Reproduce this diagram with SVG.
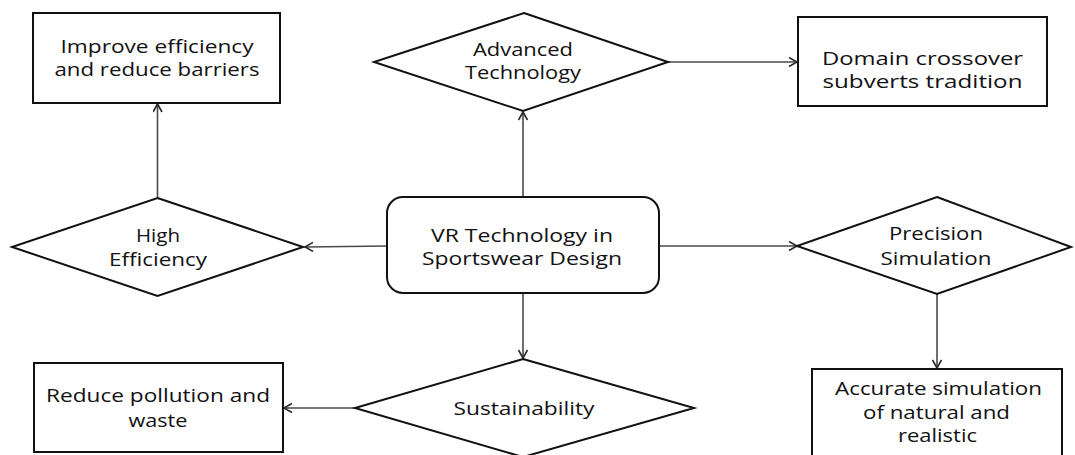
<svg xmlns="http://www.w3.org/2000/svg" width="1075" height="455" viewBox="0 0 1075 455">
  <style>
    .box { fill: #ffffff; stroke: #111111; stroke-width: 2; }
    .dia { fill: #ffffff; stroke: #111111; stroke-width: 2; stroke-linejoin: miter; }
    .lbl { font-family: "Open Sans", "Noto Sans", "Liberation Sans", sans-serif; font-size: 18.5px; fill: #111111; text-anchor: middle; }
    .edge { fill: none; stroke: #4a4a4a; stroke-width: 1.6; marker-end: url(#arrow); }
  </style>
  <defs>
    <marker id="arrow" markerUnits="userSpaceOnUse" markerWidth="12" markerHeight="12" refX="9" refY="5" orient="auto">
      <path d="M1,0.5 L9,5 L1,9.5" fill="none" stroke="#2a2a2a" stroke-width="1.6"/>
    </marker>
  </defs>
  <rect width="1075" height="455" fill="#ffffff"/>

  <!-- connectors -->
  <g id="connectors">
    <line class="edge" x1="523" y1="197" x2="523" y2="112"/>
    <line class="edge" x1="668" y1="62" x2="797" y2="62"/>
    <line class="edge" x1="388" y1="246" x2="305" y2="247"/>
    <line class="edge" x1="659" y1="246" x2="797" y2="246"/>
    <line class="edge" x1="523" y1="293" x2="523" y2="358"/>
    <line class="edge" x1="157.5" y1="198" x2="157.5" y2="104"/>
    <line class="edge" x1="937" y1="294" x2="937" y2="368"/>
    <line class="edge" x1="355" y1="408" x2="284" y2="408"/>
  </g>

  <!-- central node -->
  <g id="node-vr">
    <rect class="box" x="387" y="197" width="272" height="96" rx="16" ry="16"/>
    <text class="lbl" x="522" y="242" textLength="182" lengthAdjust="spacingAndGlyphs">VR Technology in</text>
    <text class="lbl" x="522" y="265" textLength="200" lengthAdjust="spacingAndGlyphs">Sportswear Design</text>
  </g>

  <!-- decision nodes -->
  <g id="node-advanced">
    <polygon class="dia" points="524,13 668,62 523,111 374,62"/>
    <text class="lbl" x="523" y="56" textLength="100" lengthAdjust="spacingAndGlyphs">Advanced</text>
    <text class="lbl" x="523" y="79" textLength="116" lengthAdjust="spacingAndGlyphs">Technology</text>
  </g>
  <g id="node-efficiency">
    <polygon class="dia" points="157.5,198 303,247 157.5,296 12,247"/>
    <text class="lbl" x="158" y="242" textLength="44" lengthAdjust="spacingAndGlyphs">High</text>
    <text class="lbl" x="158" y="266" textLength="98" lengthAdjust="spacingAndGlyphs">Efficiency</text>
  </g>
  <g id="node-precision">
    <polygon class="dia" points="937,197 1071,247 937,294 797,246"/>
    <text class="lbl" x="936" y="240" textLength="94" lengthAdjust="spacingAndGlyphs">Precision</text>
    <text class="lbl" x="936" y="265" textLength="111" lengthAdjust="spacingAndGlyphs">Simulation</text>
  </g>
  <g id="node-sustainability">
    <polygon class="dia" points="523,359 694,408 523,457 355,408"/>
    <text class="lbl" x="524" y="415" textLength="141" lengthAdjust="spacingAndGlyphs">Sustainability</text>
  </g>

  <!-- outcome nodes -->
  <g id="node-improve">
    <rect class="box" x="33" y="13" width="247" height="90"/>
    <text class="lbl" x="157" y="53" textLength="193" lengthAdjust="spacingAndGlyphs">Improve efficiency</text>
    <text class="lbl" x="157" y="76" textLength="205" lengthAdjust="spacingAndGlyphs">and reduce barriers</text>
  </g>
  <g id="node-domain">
    <rect class="box" x="798" y="17" width="249" height="89"/>
    <text class="lbl" x="922.5" y="65" textLength="201" lengthAdjust="spacingAndGlyphs">Domain crossover</text>
    <text class="lbl" x="922.5" y="88" textLength="200" lengthAdjust="spacingAndGlyphs">subverts tradition</text>
  </g>
  <g id="node-reduce">
    <rect class="box" x="34" y="363" width="249" height="89"/>
    <text class="lbl" x="158" y="402" textLength="224" lengthAdjust="spacingAndGlyphs">Reduce pollution and</text>
    <text class="lbl" x="158" y="427" textLength="59" lengthAdjust="spacingAndGlyphs">waste</text>
  </g>
  <g id="node-accurate">
    <rect class="box" x="812" y="369" width="250" height="100"/>
    <text class="lbl" x="938.5" y="395" textLength="207" lengthAdjust="spacingAndGlyphs">Accurate simulation</text>
    <text class="lbl" x="936.5" y="419" textLength="147" lengthAdjust="spacingAndGlyphs">of natural and</text>
    <text class="lbl" x="937.5" y="442" textLength="79" lengthAdjust="spacingAndGlyphs">realistic</text>
  </g>
</svg>
